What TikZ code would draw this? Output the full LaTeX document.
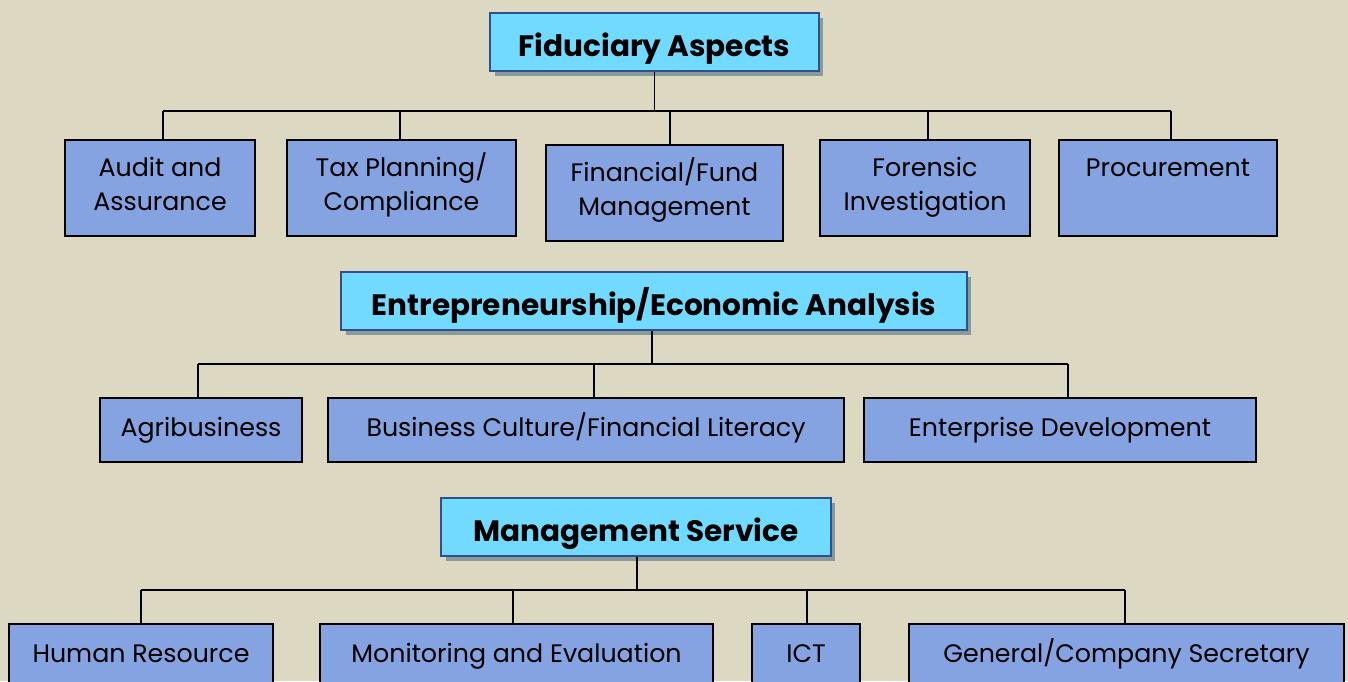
\documentclass[tikz,border=0pt]{standalone}
\usepackage{fontspec}
\setmainfont{Poppins}
\usetikzlibrary{shadows}
\definecolor{bgtan}{HTML}{DDD8C2}
\definecolor{headfill}{HTML}{73DAFF}
\definecolor{headline}{HTML}{2F4F8F}
\definecolor{shadowgrey}{HTML}{8A9A98}
\definecolor{boxfill}{HTML}{84A3E0}
\begin{document}
\begin{tikzpicture}[x=0.02cm,y=-0.02cm,
	headbox/.style={draw=headline,line width=0.7pt,fill=headfill,minimum height=1.16cm,inner sep=0pt,
		text height=0.6cm,text depth=0.04cm,
		drop shadow={shadow xshift=0.09cm,shadow yshift=-0.09cm,fill=shadowgrey,opacity=1},
		font=\fontsize{16.8pt}{20pt}\selectfont\bfseries},
	subbox/.style={draw=black,line width=1.1pt,fill=boxfill,inner sep=0pt,align=center,
		font=\fontsize{14.4pt}{18.8pt}\selectfont},
	tall/.style={minimum height=1.92cm,text height=0.98cm,text depth=0.1cm},
	flat/.style={minimum height=1.28cm,text height=0.34cm,text depth=0.1cm},
	link/.style={line width=1.1pt}]
				\useasboundingbox (0,0) rectangle (1348,681);
				\clip (0,0) rectangle (1348,681);
				\fill[bgtan] (0,0) rectangle (1348,681);
				% Fiduciary Aspects
				\node[headbox,minimum width=6.58cm] (fid) at (654.5,42){Fiduciary Aspects};
				\node[subbox,tall,minimum width=3.8cm] (audit) at (160,188){Audit and\\Assurance};
				\node[subbox,tall,minimum width=4.58cm] (tax) at (401.5,188){Tax Planning/\\Compliance};
				\node[subbox,tall,minimum width=4.74cm] (fin) at (664.5,193){Financial/Fund\\Management};
				\node[subbox,tall,minimum width=4.2cm] (foren) at (925,188){Forensic\\Investigation};
				\node[subbox,tall,minimum width=4.36cm] (proc) at (1168,188){Procurement\\\strut};
				\coordinate (busa) at (0,111);
				\draw[link](fid.south)--(fid.south|-busa);
				\foreach \n/\dx in {audit/3,tax/-1.5,fin/5.5,foren/3,proc/3}{
					\coordinate (s\n) at ([xshift=\dx*0.02cm]\n.north);
					\draw[link](s\n|-busa)--(s\n);
				}
				\draw[link](saudit|-busa)--(sproc|-busa);
				% Entrepreneurship/Economic Analysis
				\node[headbox,minimum width=12.52cm] (ent) at (654,301){Entrepreneurship/Economic Analysis};
				\node[subbox,flat,minimum width=4.04cm] (agri) at (201,430){Agribusiness};
				\node[subbox,flat,minimum width=10.32cm] (cult) at (586,430){Business Culture/Financial Literacy};
				\node[subbox,flat,minimum width=7.84cm] (enter) at (1060,430){Enterprise Development};
				\coordinate (busb) at (0,364);
				\draw[link]([xshift=-0.04cm]ent.south)--([xshift=-0.04cm]ent.south|-busb);
				\foreach \n/\dx in {agri/-3,cult/8,enter/8}{
					\coordinate (s\n) at ([xshift=\dx*0.02cm]\n.north);
					\draw[link](s\n|-busb)--(s\n);
				}
				\draw[link](sagri|-busb)--(senter|-busb);
				% Management Service
				\node[headbox,minimum width=7.8cm] (man) at (636,527){Management Service};
				\node[subbox,flat,minimum width=5.28cm] (hr) at (141,656){Human Resource};
				\node[subbox,flat,minimum width=7.86cm] (mon) at (516.5,656){Monitoring and Evaluation};
				\node[subbox,flat,minimum width=2.16cm] (ict) at (806,656){ICT};
				\node[subbox,flat,minimum width=8.7cm] (gen) at (1126.5,656){General/Company Secretary};
				\coordinate (busc) at (0,590);
				\draw[link]([xshift=0.02cm]man.south)--([xshift=0.02cm]man.south|-busc);
				\foreach \n/\dx in {hr/0,mon/-3.5,ict/1,gen/-1.5}{
					\coordinate (s\n) at ([xshift=\dx*0.02cm]\n.north);
					\draw[link](s\n|-busc)--(s\n);
				}
				\draw[link](shr|-busc)--(sgen|-busc);
\end{tikzpicture}
\end{document}
